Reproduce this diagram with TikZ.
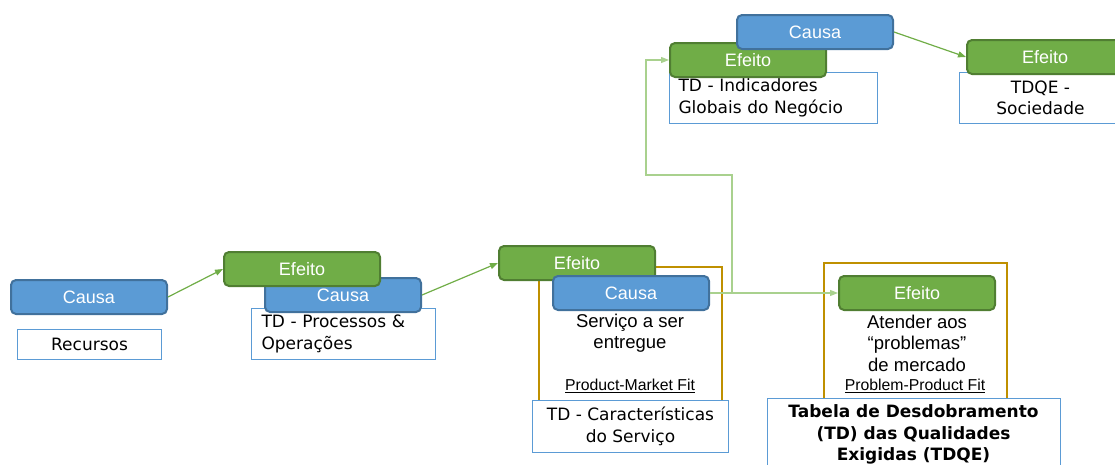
\documentclass[tikz,border=0pt]{standalone}
\usepackage{fontspec}
\setmainfont{Liberation Sans}
\newfontfamily\verdfont{DejaVu Sans}
\usetikzlibrary{positioning, arrows.meta}

\definecolor{causafill}{HTML}{5B9BD5}
\definecolor{causaline}{HTML}{41719C}
\definecolor{efeitofill}{HTML}{70AD47}
\definecolor{efeitoline}{HTML}{507E32}
\definecolor{fitline}{HTML}{BF9000}
\definecolor{tdline}{HTML}{5B9BD5}
\definecolor{linkline}{HTML}{70AD47}
\definecolor{branchline}{HTML}{A9D18E}

\begin{document}
\begin{tikzpicture}[x=1pt, y=-1pt,
    block/.style={rounded corners=5pt, line width=2pt, text=white,
      font=\fontsize{18}{20}\selectfont, minimum width=156pt,
      minimum height=34pt, inner sep=0pt, anchor=north west},
    causa/.style={block, draw=causaline, fill=causafill},
    efeito/.style={block, draw=efeitoline, fill=efeitofill},
    tdbox/.style={draw=tdline, line width=1pt, fill=white, anchor=north west,
      inner sep=0pt, font=\verdfont\fontsize{17}{21.5}\selectfont},
    fitbox/.style={draw=fitline, line width=2.5pt},
    note/.style={align=center, font=\fontsize{18.5}{21.5}\selectfont},
    fitlabel/.style={font=\fontsize{15.8}{17}\selectfont},
    link/.style={draw=linkline, line width=1.2pt,
      -{Triangle[length=8pt,width=6pt]}},
    branch/.style={link, draw=branchline}]
  \useasboundingbox (0,0) rectangle (1115,464);

  % left
  \node[causa] (C1) at (10,279) {Causa};
  \node[tdbox, minimum width=144pt, minimum height=30pt] (Rec) at (17,329) {Recursos};

  \node[tdbox, minimum width=184pt, minimum height=51pt, text width=164pt,
        align=left, inner xsep=10pt] (TDP) at (251,308) {TD - Processos \&\\Operações};
  \node[causa] (C2) at (264,277) {Causa};
  \node[efeito] (E2) at (223,251) {Efeito};

  % middle
  \draw[fitbox] (539,267) rectangle (722,406);
  \node[efeito] (E3) at (498,245) {Efeito};
  \node[causa] (C3) at (552,275) {Causa};
  \node[note] (Serv) at (630,333) {Serviço a ser\\entregue};
  \node[fitlabel] (PMF) at (630,386) {\underline{Product-Market Fit}};
  \node[tdbox, minimum width=196pt, minimum height=52pt, align=center] (TDC)
        at (532,400) {TD - Características\\do Serviço};

  % top
  \node[tdbox, minimum width=208pt, minimum height=51pt, text width=190pt,
        align=left, inner xsep=9pt] (TDI) at (669,72) {TD - Indicadores\\Globais do Negócio};
  \node[efeito] (EG) at (669,42) {Efeito};
  \node[causa] (CG) at (736,14) {Causa};
  \node[tdbox, minimum width=162pt, minimum height=51pt, align=center] (TDS)
        at (959,72) {TDQE -\\Sociedade};
  \node[efeito] (ES) at (966,39) {Efeito};

  % right
  \draw[fitbox] (824,263) rectangle (1007,404);
  \node[efeito] (E4) at (838,275) {Efeito};
  \node[note] (Aten) at (917,343) {Atender aos\\“problemas”\\de mercado};
  \node[fitlabel] (PPF) at (915,386) {\underline{Problem-Product Fit}};
  \node[tdbox, minimum width=293pt, minimum height=75pt] (TDQE) at (767,398) {};
  \node[align=center, inner sep=0pt,
        font=\verdfont\bfseries\fontsize{17}{21.5}\selectfont]
        (TDQEtxt) at (913.5,434.5) {Tabela de Desdobramento\\(TD) das Qualidades\\Exigidas (TDQE)};

  \coordinate (jn) at (732,292);
  \coordinate (bend) at (646,175);

  \path
    (C1.east) edge[link] (E2.west)
    (C2.east) edge[link] (E3.west)
    (CG.east) edge[link] (ES.west)
    (C3.east) edge[branch] (E4.west);
  \draw[branch] (jn) |- (bend) |- (EG.west);
\end{tikzpicture}
\end{document}
